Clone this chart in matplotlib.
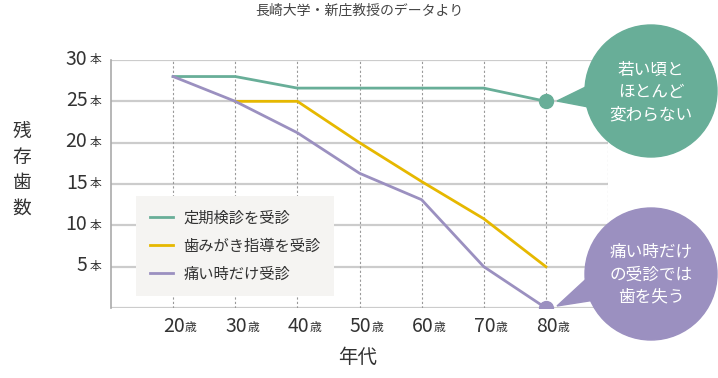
import matplotlib
matplotlib.use("Agg")
import matplotlib.pyplot as plt
from matplotlib.patches import Circle, Polygon
import numpy as np

plt.rcParams['font.family'] = ['Noto Sans CJK JP', 'DejaVu Sans']

# data
ages = [20, 30, 40, 50, 60, 70, 80]
regular = [28, 28, 26.6, 26.6, 26.6, 26.6, 25]
brushing = [np.nan, 25, 25, 20, 15.3, 10.8, 5]
pain_only = [28, 25, 21.2, 16.3, 13.1, 5, 0]
series_labels = ["定期検診を受診", "歯みがき指導を受診", "痛い時だけ受診"]
y_ticks = [5, 10, 15, 20, 25, 30]

green = "#68ae98"
yellow = "#e6b800"
purple = "#9b90c0"
textc = "#333333"

fig = plt.figure(figsize=(7.18, 3.78), dpi=100)
ax = fig.add_axes([111/718, 1-308/378, 497/718, 248/378])

ax.set_xlim(10, 90)
ax.set_ylim(0, 30)

# grid
for v in [0] + y_ticks:
    ax.axhline(v, color="#cccccc", lw=1.6, zorder=1)
for a in ages + [90]:
    ax.axvline(a, color="#999999", lw=0.8, ls=(0, (2, 2)), zorder=1)

for s in ["top", "right", "bottom"]:
    ax.spines[s].set_visible(False)
ax.spines["left"].set_color("#aaaaaa")
ax.spines["left"].set_linewidth(1.2)
ax.set_xticks([])
ax.set_yticks([])

ax.plot(ages, regular, color=green, lw=2, label=series_labels[0], zorder=3)
ax.plot(ages, brushing, color=yellow, lw=2, label=series_labels[1], zorder=3)
ax.plot(ages, pain_only, color=purple, lw=2, label=series_labels[2], zorder=4)
ax.plot(ages[-1], regular[-1], "o", color=green, ms=10, zorder=5)
ax.plot(ages[-1], pain_only[-1], "o", color=purple, ms=10, zorder=5)

leg = ax.legend(loc="upper left", bbox_to_anchor=(0.05, 0.453), frameon=True,
                fontsize=11, handlelength=1.5, handletextpad=0.7,
                labelspacing=0.72, borderpad=0.9, borderaxespad=0)
leg.get_frame().set_facecolor("#f5f4f2")
leg.get_frame().set_edgecolor("none")
leg.get_frame().set_alpha(1)
leg.get_frame().set_boxstyle("square", pad=0)
for t in leg.get_texts():
    t.set_color(textc)
leg.set_zorder(6)

# tick labels
for v in y_ticks:
    ax.annotate("本", xy=(0, v), xycoords=("axes fraction", "data"),
                xytext=(-7, 0), textcoords="offset points",
                ha="right", va="center", fontsize=8.5, color=textc)
    ax.annotate(str(v), xy=(0, v), xycoords=("axes fraction", "data"),
                xytext=(-17, 0.5), textcoords="offset points",
                ha="right", va="center", fontsize=14, color=textc)
for a in ages:
    ax.annotate(str(a), xy=(a, 0), xycoords=("data", "axes fraction"),
                xytext=(8.6, -13), textcoords="offset points",
                ha="right", va="center", fontsize=14, color=textc)
    ax.annotate("歳", xy=(a, 0), xycoords=("data", "axes fraction"),
                xytext=(8.6, -14), textcoords="offset points",
                ha="left", va="center", fontsize=8.5, color=textc)

fig.text(22/718, 1-170/378, "残\n存\n歯\n数", ha="center", va="center",
         fontsize=13.5, color=textc, linespacing=1.3)
fig.text(358/718, 1-357/378, "年代", ha="center", va="center",
         fontsize=14, color=textc)
fig.text(359/718, 1-11/378, "長崎大学・新庄教授のデータより", ha="center",
         va="center", fontsize=10, color="#444444")

# speech bubbles
ov = fig.add_axes([0, 0, 1, 1], zorder=10)
ov.set_xlim(0, 718)
ov.set_ylim(378, 0)
ov.axis("off")
ov.patch.set_alpha(0)
ov.add_patch(Circle((651, 91), 66, color=green))
ov.add_patch(Polygon([(557, 101), (600, 80), (604, 110)], color=green))
ov.text(651, 93, "若い頃と\nほとんど\n変わらない", ha="center", va="center",
        color="white", fontsize=12, linespacing=1.4)
ov.add_patch(Circle((651, 274), 66, color=purple))
ov.add_patch(Polygon([(557, 306), (596, 270), (608, 298)], color=purple))
ov.text(651, 275, "痛い時だけ\nの受診では\n歯を失う", ha="center", va="center",
        color="white", fontsize=12, linespacing=1.4)

fig.savefig("out.png", dpi=100)
